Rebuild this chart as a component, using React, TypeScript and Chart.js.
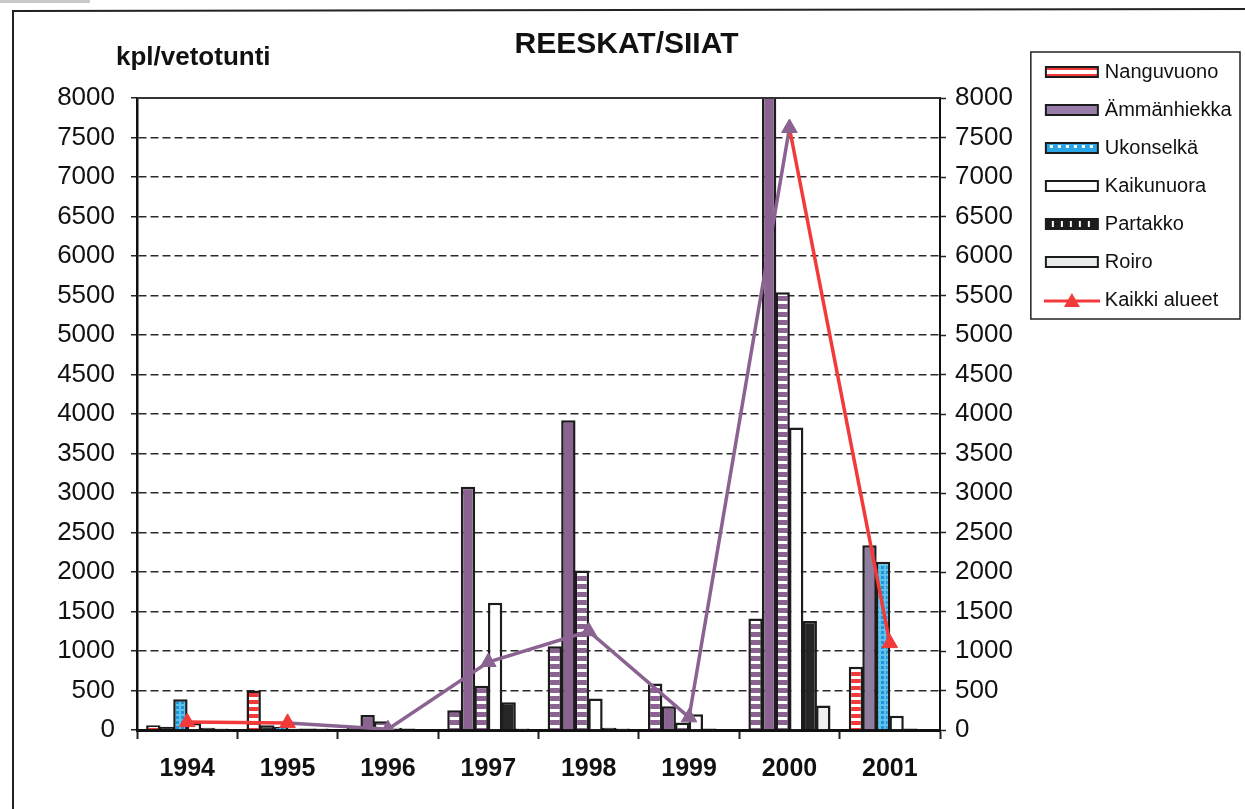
import React, { useEffect, useRef } from 'react';
import { Chart, registerables } from 'chart.js';

Chart.register(...registerables);

// ---------- data ----------
const years = ['1994', '1995', '1996', '1997', '1998', '1999', '2000', '2001'];
const nanguvuono = [60, 500, 30, 250, 1060, 590, 1410, 800];
const ammanhiekka = [40, 60, 190, 3080, 3920, 300, 8400, 2340];
const ukonselka = [390, 40, 110, 560, 2020, 95, 5540, 2130];
const kaikunuora = [90, 20, 30, 1610, 400, 200, 3830, 180];
const partakko = [30, 20, 20, 350, 30, 20, 1380, 20];
const roiro = [20, 20, 10, 20, 20, 10, 310, 10];
const kaikkiAlueet = [100, 90, 10, 860, 1250, 160, 7620, 1100];
const seriesNames = ['Nanguvuono', 'Ämmänhiekka', 'Ukonselkä', 'Kaikunuora', 'Partakko', 'Roiro', 'Kaikki alueet'];
const titleText = 'REESKAT/SIIAT';
const unitText = 'kpl/vetotunti';
const yMin = 0;
const yMax = 8000;
const yStep = 500;

// ---------- styles ----------
const FONT = "'Liberation Sans', Arial, sans-serif";
const PURPLE = '#8a6391';
const RED = '#f23a3a';
const INK = '#1c1c1c';
const PAD_RIGHT = 12;
// the scan shows the middle years with a purple tint
const tinted = (i: any) => typeof i === 'number' && i >= 2 && i <= 6;

function tile(w: number, h: number, draw: (g: CanvasRenderingContext2D) => void) {
  const c = document.createElement('canvas');
  c.width = w;
  c.height = h;
  draw(c.getContext('2d') as CanvasRenderingContext2D);
  return c;
}

function swatch(kind: number) {
  return tile(56, 16, (g) => {
    const x = 1, y = 2, w = 54, h = 12;
    if (kind === 6) {
      g.strokeStyle = RED;
      g.lineWidth = 3;
      g.beginPath();
      g.moveTo(0, 9);
      g.lineTo(56, 9);
      g.stroke();
      g.fillStyle = RED;
      g.beginPath();
      g.moveTo(28, 1);
      g.lineTo(36, 15);
      g.lineTo(20, 15);
      g.closePath();
      g.fill();
      return;
    }
    g.fillStyle = INK;
    g.fillRect(x, y, w, h);
    const ix = x + 2, iy = y + 2, iw = w - 4, ih = h - 4;
    if (kind === 0) {
      g.fillStyle = RED;
      g.fillRect(ix, iy, iw, ih);
      g.fillStyle = '#fff';
      g.fillRect(ix, iy + 2, iw, ih - 4);
    } else if (kind === 1) {
      g.fillStyle = '#9a7cab';
      g.fillRect(ix, iy, iw, ih);
    } else if (kind === 2) {
      g.fillStyle = '#2aa6e6';
      g.fillRect(ix, iy, iw, ih);
      g.fillStyle = '#fff';
      for (let k = ix + 3; k < ix + iw - 2; k += 8) g.fillRect(k, iy + 1, 3, 3);
    } else if (kind === 3) {
      g.fillStyle = '#fff';
      g.fillRect(ix, iy, iw, ih);
    } else if (kind === 4) {
      g.fillStyle = '#fff';
      for (let k = ix + 5; k < ix + iw - 2; k += 9) g.fillRect(k, iy + 1, 2, ih - 2);
    } else if (kind === 5) {
      g.fillStyle = '#e8edeb';
      g.fillRect(ix, iy, iw, ih);
    }
  });
}

const decorPlugin = {
  id: 'decor',
  beforeDraw(chart: any) {
    const { ctx } = chart;
    ctx.save();
    ctx.fillStyle = '#fff';
    ctx.fillRect(0, 0, chart.width, chart.height);
    ctx.fillStyle = '#c9c9c9';
    ctx.fillRect(0, 0, 90, 3);
    ctx.strokeStyle = '#222';
    ctx.lineWidth = 2;
    ctx.beginPath();
    ctx.moveTo(13, chart.height);
    ctx.lineTo(13, 11);
    ctx.lineTo(chart.width, 9);
    ctx.stroke();
    ctx.restore();
  },
  afterDraw(chart: any) {
    const { ctx, chartArea } = chart;
    ctx.save();
    // top frame of the plot area
    ctx.strokeStyle = '#333';
    ctx.lineWidth = 2;
    ctx.beginPath();
    ctx.moveTo(chartArea.left, chartArea.top);
    ctx.lineTo(chartArea.right, chartArea.top);
    ctx.stroke();
    // legend frame
    const lg = chart.legend;
    if (lg && lg.legendHitBoxes && lg.legendHitBoxes.length) {
      const hb = lg.legendHitBoxes;
      const last = hb[hb.length - 1];
      const y0 = hb[0].top - 10;
      const y1 = last.top + last.height + 9;
      ctx.strokeStyle = '#222';
      ctx.lineWidth = 1.5;
      ctx.strokeRect(lg.left, y0, chart.width - 5 - lg.left, y1 - y0);
    }
    // unit label
    ctx.fillStyle = '#111';
    ctx.font = `bold 26px ${FONT}`;
    ctx.textAlign = 'left';
    ctx.textBaseline = 'middle';
    ctx.fillText(unitText, 116, 58);
    ctx.restore();
  },
};

export default function App() {
  const ref = useRef<HTMLCanvasElement>(null);

  useEffect(() => {
    const canvas = ref.current as HTMLCanvasElement;
    const ctx = canvas.getContext('2d') as CanvasRenderingContext2D;

    const redStripe = ctx.createPattern(
      tile(8, 7, (g) => {
        g.fillStyle = RED;
        g.fillRect(0, 0, 8, 7);
        g.fillStyle = '#fff';
        g.fillRect(0, 4, 8, 3);
      }),
      'repeat'
    ) as CanvasPattern;
    const purpleStripe = ctx.createPattern(
      tile(8, 8, (g) => {
        g.fillStyle = PURPLE;
        g.fillRect(0, 0, 8, 8);
        g.fillStyle = '#fff';
        g.fillRect(0, 5, 8, 3);
      }),
      'repeat'
    ) as CanvasPattern;
    const blueDots = ctx.createPattern(
      tile(5, 5, (g) => {
        g.fillStyle = '#5cc2ee';
        g.fillRect(0, 0, 5, 5);
        g.fillStyle = '#1f94d6';
        g.fillRect(1, 1, 3, 3);
      }),
      'repeat'
    ) as CanvasPattern;

    const swatches = seriesNames.map((_, i) => swatch(i));

    const barCommon = {
      borderColor: INK,
      borderWidth: 2.5,
      categoryPercentage: 0.81,
      barPercentage: 1.06,
      clip: 0,
      order: 1,
      yAxisID: 'y',
    };

    const tickLabel = (v: any) => String(v);

    const chart = new Chart(canvas, {
      type: 'bar',
      data: {
        labels: years,
        datasets: [
          {
            ...barCommon,
            label: seriesNames[0],
            data: nanguvuono,
            backgroundColor: (c: any) => (tinted(c.dataIndex) ? purpleStripe : redStripe),
          },
          {
            ...barCommon,
            label: seriesNames[1],
            data: ammanhiekka,
            backgroundColor: (c: any) =>
              c.dataIndex === 7 ? '#8e7d9f' : tinted(c.dataIndex) ? PURPLE : '#333',
          },
          {
            ...barCommon,
            label: seriesNames[2],
            data: ukonselka,
            backgroundColor: (c: any) => (tinted(c.dataIndex) ? purpleStripe : blueDots),
          },
          { ...barCommon, label: seriesNames[3], data: kaikunuora, backgroundColor: '#ffffff' },
          { ...barCommon, label: seriesNames[4], data: partakko, backgroundColor: '#262626' },
          { ...barCommon, label: seriesNames[5], data: roiro, backgroundColor: '#eef1ef' },
          {
            type: 'line',
            label: seriesNames[6],
            data: kaikkiAlueet,
            yAxisID: 'y2',
            order: 0,
            borderColor: RED,
            borderWidth: 3.5,
            tension: 0,
            segment: {
              borderColor: (c: any) => (c.p0DataIndex >= 1 && c.p1DataIndex <= 6 ? PURPLE : RED),
            },
            pointStyle: 'triangle',
            pointRadius: 9,
            pointBorderWidth: 1,
            pointBackgroundColor: (c: any) => (tinted(c.dataIndex) ? PURPLE : RED),
            pointBorderColor: (c: any) => (tinted(c.dataIndex) ? PURPLE : RED),
          } as any,
        ],
      },
      options: {
        responsive: false,
        animation: false,
        devicePixelRatio: 1,
        layout: { padding: { top: 44, left: 20, right: PAD_RIGHT, bottom: 0 } },
        plugins: {
          tooltip: { enabled: false },
          title: {
            display: true,
            text: titleText,
            color: '#111',
            font: { family: FONT, size: 30, weight: 'bold', lineHeight: 1 },
            padding: { top: -14, bottom: 38 },
          },
          legend: {
            display: true,
            position: 'right',
            align: 'start',
            labels: {
              usePointStyle: true,
              pointStyleWidth: 46,
              boxHeight: 14,
              padding: 18,
              color: '#111',
              font: { family: FONT, size: 20 },
              generateLabels: () =>
                seriesNames.map((name, i) => ({
                  text: name,
                  fillStyle: 'rgba(0,0,0,0)',
                  strokeStyle: 'rgba(0,0,0,0)',
                  lineWidth: 0,
                  pointStyle: swatches[i] as any,
                  hidden: false,
                  datasetIndex: i,
                  fontColor: '#111',
                })),
            },
          },
        },
        scales: {
          x: {
            offset: true,
            grid: {
              display: true,
              offset: true,
              drawOnChartArea: false,
              drawTicks: true,
              tickLength: 9,
              tickColor: '#222',
              tickWidth: 2,
            },
            border: { display: true, color: '#111', width: 3 },
            ticks: {
              color: '#111',
              font: { family: FONT, size: 25, weight: 'bold' },
              padding: 15,
              maxRotation: 0,
              autoSkip: false,
            },
            afterFit: (s: any) => {
              s.height = 79;
            },
          },
          y: {
            position: 'left',
            min: yMin,
            max: yMax,
            ticks: {
              stepSize: yStep,
              autoSkip: false,
              callback: tickLabel,
              color: '#111',
              font: { family: FONT, size: 26 },
              padding: 16,
            },
            grid: {
              color: '#2a2a2a',
              lineWidth: 1.5,
              drawTicks: true,
              tickLength: 6,
              tickColor: '#222',
              tickWidth: 1.5,
              tickBorderDash: [],
            },
            border: { display: true, color: '#111', width: 2.5, dash: [8, 4] },
            afterFit: (s: any) => {
              s.width = 117;
            },
          },
          y2: {
            position: 'right',
            min: yMin,
            max: yMax,
            ticks: {
              stepSize: yStep,
              autoSkip: false,
              callback: tickLabel,
              color: '#111',
              font: { family: FONT, size: 26 },
              padding: 9,
            },
            grid: {
              drawOnChartArea: false,
              drawTicks: true,
              tickLength: 6,
              tickColor: '#222',
              tickWidth: 1.5,
            },
            border: { display: true, color: '#111', width: 2 },
            afterFit: (s: any) => {
              const lw = s.chart.legend && s.chart.legend.width ? s.chart.legend.width : 205;
              s.width = s.chart.width - PAD_RIGHT - lw - 940;
            },
          },
        },
      } as any,
      plugins: [decorPlugin],
    } as any);

    return () => chart.destroy();
  }, []);

  return (
    <div style={{ position: 'absolute', left: 0, top: 0, width: 1245, height: 809, background: '#fff' }}>
      <canvas ref={ref} width={1245} height={809} style={{ display: 'block', width: 1245, height: 809 }} />
    </div>
  );
}
